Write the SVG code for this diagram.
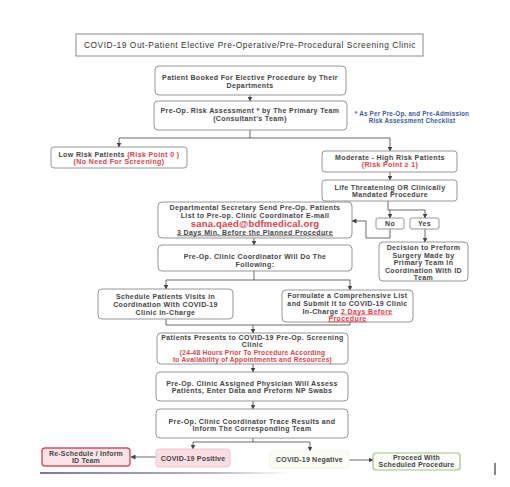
<svg xmlns="http://www.w3.org/2000/svg" width="510" height="487" viewBox="0 0 510 487">
<defs>
<marker id="ah" markerWidth="5" markerHeight="5" refX="4.5" refY="2.5" orient="auto" markerUnits="userSpaceOnUse">
<path d="M0,0 L5,2.5 L0,5 Z" fill="#444"/>
</marker>
<linearGradient id="fade" x1="0" x2="1" y1="0" y2="0">
<stop offset="0" stop-color="#7a7a96"/>
<stop offset="0.7" stop-color="#b8b8c8"/>
<stop offset="1" stop-color="#ffffff"/>
</linearGradient>
</defs>
<style>
.box{fill:#fff;stroke:#8a8a8a;stroke-width:0.9}
.t{font-family:"Liberation Sans",Arial,sans-serif;font-size:7px;font-weight:bold;fill:#444;text-anchor:middle;letter-spacing:0.38px}
.r{fill:#e0404a}
.u{text-decoration:underline}
.c{fill:none;stroke:#444;stroke-width:0.8}
.ca{fill:none;stroke:#444;stroke-width:0.8;marker-end:url(#ah)}
</style>
<rect width="510" height="487" fill="#fff"/>

<g id="title">
<rect x="76" y="34" width="347" height="22" fill="#fff" stroke="#8a8a8a" stroke-width="1"/>
<text x="250" y="48" class="t" style="font-weight:normal;font-size:8.4px;letter-spacing:0.55px;fill:#333">COVID-19 Out-Patient Elective Pre-Operative/Pre-Procedural Screening Clinic</text>
</g>

<g id="connectors">
<path class="ca" d="M250,95 V101"/>
<path class="c" d="M250,130 V138 M119,138 H390"/>
<path class="ca" d="M119,138 V147"/>
<path class="ca" d="M390,138 V151"/>
<path class="ca" d="M390,172 V180"/>
<path class="c" d="M388,201 V210 H425"/>
<path class="ca" d="M390,210 V218"/>
<path class="ca" d="M425,210 V218"/>
<path class="c" d="M390,229 V238 H366 V221"/>
<path class="ca" d="M366,221 H352"/>
<path class="ca" d="M425,229 V242"/>
<path class="ca" d="M254,238 V245"/>
<path class="c" d="M254,271 V280 M166,280 H350"/>
<path class="ca" d="M166,280 V289"/>
<path class="ca" d="M350,280 V290"/>
<path class="c" d="M166,319 V325 H350 V322"/>
<path class="ca" d="M253,325 V333"/>
<path class="ca" d="M253,364 V372"/>
<path class="ca" d="M253,401 V409"/>
<path class="c" d="M253,438 V442 M193,442 H310"/>
<path class="ca" d="M193,442 V449"/>
<path class="ca" d="M310,442 V451"/>
<path class="ca" d="M156,457 H131"/>
<path class="ca" d="M349,460 H373"/>
</g>

<g id="booked">
<rect class="box" x="155" y="66" width="191" height="29" rx="4"/>
<text class="t" x="250" y="80">Patient Booked For Elective Procedure by Their</text>
<text class="t" x="250" y="88">Departments</text>
</g>

<g id="risk">
<rect class="box" x="154" y="101" width="193" height="29" rx="4"/>
<text class="t" x="250" y="112.5">Pre-Op. Risk Assessment * by The Primary Team</text>
<text class="t" x="250" y="120.5">(Consultant's Team)</text>
</g>

<g id="note">
<text class="t" x="412" y="116" style="font-size:6.3px;fill:#3a5aa8;letter-spacing:0.2px">* As Per Pre-Op. and Pre-Admission</text>
<text class="t" x="412" y="122.5" style="font-size:6.3px;fill:#3a5aa8;letter-spacing:0.2px">Risk Assessment Checklist</text>
</g>

<g id="low">
<rect class="box" x="51" y="147" width="136" height="21" rx="3"/>
<text class="t" x="119" y="156.5">Low Risk Patients <tspan class="r">(Risk Point 0 )</tspan></text>
<text class="t r" x="119" y="164">(No Need For Screening)</text>
</g>

<g id="moderate">
<rect class="box" x="322" y="151" width="135" height="21" rx="3"/>
<text class="t" x="390" y="159.5">Moderate - High Risk Patients</text>
<text class="t r" x="390" y="167">(Risk Point ≥ 1)</text>
</g>

<g id="life">
<rect class="box" x="322" y="180" width="135" height="21" rx="3"/>
<text class="t" x="390" y="189.5">Life Threatening OR Clinically</text>
<text class="t" x="390" y="197">Mandated Procedure</text>
</g>

<g id="no">
<rect class="box" x="376" y="218" width="28" height="11" rx="2"/>
<text class="t" x="390" y="226">No</text>
</g>

<g id="yes">
<rect class="box" x="410" y="218" width="29" height="11" rx="2"/>
<text class="t" x="424.5" y="226">Yes</text>
</g>

<g id="decision">
<rect class="box" x="379" y="242" width="89" height="39" rx="4"/>
<text class="t" x="423.5" y="250">Decision to Preform</text>
<text class="t" x="423.5" y="257.5">Surgery Made by</text>
<text class="t" x="423.5" y="265">Primary Team in</text>
<text class="t" x="423.5" y="272.5">Coordination With ID</text>
<text class="t" x="423.5" y="279.5">Team</text>
</g>

<g id="secretary">
<rect class="box" x="158" y="202" width="194" height="36" rx="4"/>
<text class="t" x="255" y="209.5">Departmental Secretary Send Pre-Op. Patients</text>
<text class="t" x="255" y="217.5">List to Pre-op. Clinic Coordinator E-mail</text>
<text class="t r" x="255" y="226.5" style="font-size:9.5px;letter-spacing:0.2px">sana.qaed@bdfmedical.org</text>
<text class="t u" x="255" y="234.5">3 Days Min. Before the Planned Procedure</text>
</g>

<g id="coordinator">
<rect class="box" x="158" y="245" width="194" height="26" rx="4"/>
<text class="t" x="255" y="258.5">Pre-Op. Clinic Coordinator Will Do The</text>
<text class="t" x="255" y="266.5">Following:</text>
</g>

<g id="schedule">
<rect class="box" x="98" y="289" width="135" height="30" rx="4"/>
<text class="t" x="165.5" y="298.5">Schedule Patients Visits in</text>
<text class="t" x="165.5" y="306.5">Coordination With  COVID-19</text>
<text class="t" x="165.5" y="314.5">Clinic In-Charge</text>
</g>

<g id="formulate">
<rect class="box" x="282" y="290" width="131" height="32" rx="4"/>
<text class="t" x="347.5" y="297.5">Formulate a Comprehensive List</text>
<text class="t" x="347.5" y="305.5">and Submit it to COVID-19 Clinic</text>
<text class="t" x="347.5" y="313.5">In-Charge <tspan class="r u">2 Days Before</tspan></text>
<text class="t r u" x="347.5" y="320.5">Procedure</text>
</g>

<g id="presents">
<rect class="box" x="157" y="333" width="191" height="31" rx="4"/>
<text class="t" x="252.5" y="339.5">Patients Presents to COVID-19 Pre-Op. Screening</text>
<text class="t" x="252.5" y="347">Clinic</text>
<text class="t r" x="252.5" y="354.5" style="font-size:6.6px;letter-spacing:0.25px">(24-48 Hours Prior To Procedure According</text>
<text class="t r" x="252.5" y="361.5" style="font-size:6.6px;letter-spacing:0.25px">to Availability of Appointments and Resources)</text>
</g>

<g id="assess">
<rect class="box" x="156" y="372" width="192" height="29" rx="4"/>
<text class="t" x="252" y="385.5">Pre-Op. Clinic Assigned Physician Will Assess</text>
<text class="t" x="252" y="393">Patients, Enter Data and Preform NP Swabs</text>
</g>

<g id="trace">
<rect class="box" x="156" y="409" width="192" height="29" rx="4"/>
<text class="t" x="252" y="423.5">Pre-Op. Clinic Coordinator Trace Results and</text>
<text class="t" x="252" y="431">Inform The Corresponding Team</text>
</g>

<g id="positive">
<rect x="156" y="449" width="74" height="18" rx="3" fill="#f9dde2" stroke="#ecc0c8" stroke-width="0.9"/>
<text class="t" x="193" y="460.5" style="letter-spacing:0.2px">COVID-19 Positive</text>
</g>

<g id="reschedule">
<rect x="42" y="448" width="88" height="18" rx="3" fill="#fbe4e8" stroke="#d4505e" stroke-width="1.4"/>
<text class="t" x="86" y="455.5" style="letter-spacing:0.2px">Re-Schedule / Inform</text>
<text class="t" x="86" y="463" style="letter-spacing:0.2px">ID Team</text>
</g>

<g id="negative">
<rect x="270" y="451" width="79" height="17" rx="3" fill="#fbfdf4" stroke="#eef2e0" stroke-width="0.9"/>
<text class="t" x="309.5" y="462" style="letter-spacing:0.2px">COVID-19 Negative</text>
</g>

<g id="proceed">
<rect x="373" y="453" width="87" height="17" rx="3" fill="#fbfdf6" stroke="#a4bf86" stroke-width="1.2"/>
<text class="t" x="416.5" y="459.5" style="letter-spacing:0.2px">Proceed With</text>
<text class="t" x="416.5" y="467" style="letter-spacing:0.2px">Scheduled Procedure</text>
</g>

<rect x="40" y="472" width="250" height="2" fill="url(#fade)"/>
<line x1="495" y1="463" x2="495" y2="475" stroke="#111" stroke-width="1"/>
</svg>
